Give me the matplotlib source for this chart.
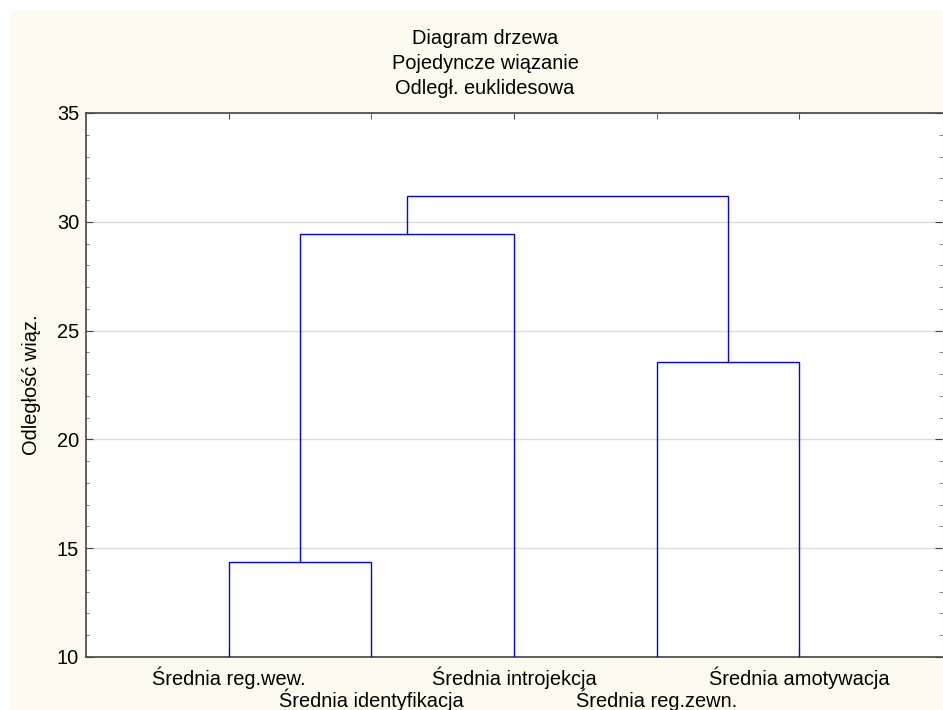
import matplotlib
matplotlib.use("Agg")
import matplotlib.pyplot as plt
from matplotlib.patches import Rectangle
from matplotlib.ticker import MultipleLocator

plt.rcParams['font.family'] = ['Liberation Sans', 'DejaVu Sans']

# liscie dendrogramu (w kolejnosci na osi X)
etykiety = ["Średnia reg.wew.", "Średnia identyfikacja", "Średnia introjekcja",
            "Średnia reg.zewn.", "Średnia amotywacja"]
# laczenia: (wezel_a, wezel_b, odleglosc) - wezly >= 5 to kolejne skupienia
laczenia = [(0, 1, 14.35), (5, 2, 29.45), (3, 4, 23.55), (6, 7, 31.2)]

tytul = ["Diagram drzewa", "Pojedyncze wiązanie", "Odległ. euklidesowa"]
os_y = "Odległość wiąz."

fig = plt.figure(figsize=(9.43, 7.10), dpi=100)
fig.patch.set_facecolor("white")
fig.patches.append(Rectangle((11 / 943, 0), 1, 1 - 11 / 710, transform=fig.transFigure,
                             facecolor="#FFFAF0", edgecolor="none", zorder=-10))

ax = fig.add_axes([86 / 943, 53 / 710, 856 / 943, 544 / 710])
ax.set_facecolor("white")

# pozycje i wysokosci wezlow
n = len(etykiety)
pos = {i: i + 1 for i in range(n)}
wys = {i: 10 for i in range(n)}
for k, (a, b, h) in enumerate(laczenia):
    xa, xb = pos[a], pos[b]
    ax.plot([xa, xa, xb, xb], [wys[a], h, h, wys[b]], color="#0000FF", lw=1.0,
            solid_joinstyle="miter", zorder=3)
    pos[n + k] = (xa + xb) / 2
    wys[n + k] = h

ax.set_xlim(0, 6)
ax.set_ylim(10, 35)
ax.yaxis.set_major_locator(MultipleLocator(5))
ax.yaxis.set_minor_locator(MultipleLocator(1))
ax.grid(axis="y", color="#DCDCDC", lw=1)
ax.set_axisbelow(True)

# dwa rzedy etykiet: parzyste jako glowne, nieparzyste jako pomocnicze (nizej)
x_leaf = list(range(1, n + 1))
ax.set_xticks(x_leaf[0::2])
ax.set_xticklabels(etykiety[0::2], fontsize=14.4)
ax.set_xticks(x_leaf[1::2], minor=True)
ax.set_xticklabels(etykiety[1::2], minor=True, fontsize=14.4)

ax.tick_params(axis="x", which="major", bottom=True, top=True, direction="in",
               length=4, color="#444444", pad=7)
ax.tick_params(axis="x", which="minor", bottom=True, top=True, direction="in",
               length=4, color="#444444", pad=23)
ax.tick_params(axis="y", which="major", left=True, right=True, direction="in",
               length=5, color="#444444", labelsize=14.4, pad=5)
ax.tick_params(axis="y", which="minor", left=True, right=True, direction="in",
               length=2.5, color="#666666")

for s in ["left", "top", "bottom"]:
    ax.spines[s].set_color("#444444")
    ax.spines[s].set_linewidth(1.2)
ax.spines["right"].set_visible(False)

ax.set_ylabel(os_y, fontsize=14.4)
ax.yaxis.set_label_coords(-0.053, 0.5)

for i, t in enumerate(tytul):
    fig.text(485 / 943, 1 - (39 + 24.5 * i) / 710, t, ha="center", va="center", fontsize=14.4)

fig.savefig("out.png", dpi=100, facecolor=fig.get_facecolor())
